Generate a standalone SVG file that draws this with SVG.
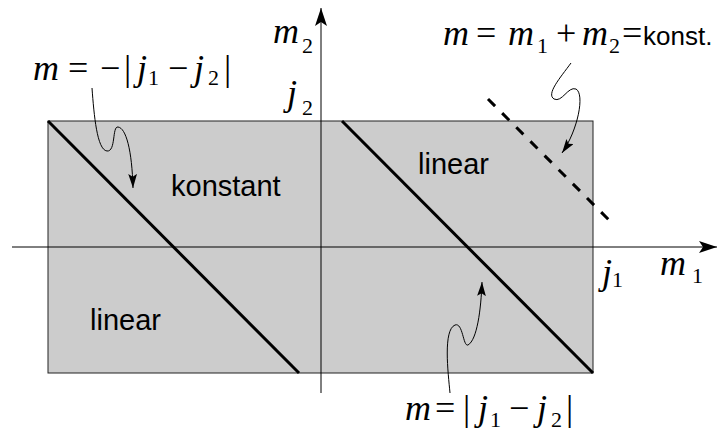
<svg xmlns="http://www.w3.org/2000/svg" width="720" height="431" viewBox="0 0 720 431">
<style>
.mi{font-family:"Liberation Serif",serif;font-style:italic;font-size:36px;fill:#000}
.mr{font-family:"Liberation Serif",serif;font-size:36px;fill:#000}
.sb{font-family:"Liberation Serif",serif;font-size:22px;fill:#000}
.bar{font-family:"Liberation Serif",serif;font-size:36px;fill:#000}
.sans{font-family:"Liberation Sans",Arial,sans-serif;font-size:29px;fill:#000}
.curl{fill:none;stroke:#000;stroke-width:1}
</style>
<defs>
<marker id="ah" viewBox="0 0 18 12" refX="18" refY="6" markerWidth="18" markerHeight="12" markerUnits="userSpaceOnUse" orient="auto">
<path d="M0,0 L18,6 L0,12 L4,6 Z" fill="#000"/>
</marker>
<marker id="ahs" viewBox="0 0 16 10" refX="16" refY="5" markerWidth="14" markerHeight="9" markerUnits="userSpaceOnUse" orient="auto">
<path d="M0,0 L16,5 L0,10 L3,5 Z" fill="#000"/>
</marker>
</defs>
<g id="region">
<rect x="48" y="121" width="545" height="252" fill="#cccccc" stroke="#222" stroke-width="1"/>
</g>
<g id="connectors">
<line x1="12" y1="247" x2="717" y2="247" stroke="#000" stroke-width="1" marker-end="url(#ah)"/>
<line x1="321" y1="393" x2="321" y2="8" stroke="#000" stroke-width="1" marker-end="url(#ah)"/>
<line x1="48" y1="121" x2="299" y2="373" stroke="#000" stroke-width="3"/>
<line x1="342" y1="121" x2="593" y2="373" stroke="#000" stroke-width="3"/>
<line x1="488" y1="99" x2="614" y2="225" stroke="#000" stroke-width="3" stroke-dasharray="10 10"/>
<path class="curl" d="M92,88 C94,115 97,150 107,151 C116,152 112,126 118,127 C126,128 132,150 133,188" marker-end="url(#ahs)"/>
<path class="curl" d="M571,63 C560,78 546,94 554,99 C562,103 568,86 576,89 C585,94 578,130 562,153" marker-end="url(#ahs)"/>
<path class="curl" d="M450,393 C448,372 443,330 455,325 C463,322 463,347 468,345 C477,340 481,310 482,282" marker-end="url(#ahs)"/>
</g>
<g id="label-m2">
<text class="mi" x="273" y="43">m</text><text class="sb" x="302" y="53">2</text>
</g>
<g id="label-j2">
<text class="mi" x="287" y="105">j</text><text class="sb" x="302" y="115">2</text>
</g>
<g id="label-j1">
<text class="mi" x="602" y="284">j</text><text class="sb" x="612" y="287">1</text>
</g>
<g id="label-m1">
<text class="mi" x="660" y="275">m</text><text class="sb" x="692" y="283">1</text>
</g>
<g id="formula-left">
<text class="mi" x="33" y="80">m</text>
<text class="mr" x="68" y="80">=</text>
<text class="mr" x="100" y="80">−</text>
<text class="bar" x="124" y="80">|</text>
<text class="mi" x="137" y="80">j</text>
<text class="sb" x="148" y="85">1</text>
<text class="mr" x="168" y="80">−</text>
<text class="mi" x="194" y="80">j</text>
<text class="sb" x="208" y="85">2</text>
<text class="bar" x="224" y="80">|</text>
</g>
<g id="formula-top">
<text class="mi" x="443" y="45">m</text>
<text class="mr" x="476" y="45">=</text>
<text class="mi" x="508" y="45">m</text>
<text class="sb" x="537" y="53">1</text>
<text class="mr" x="556" y="45">+</text>
<text class="mi" x="582" y="45">m</text>
<text class="sb" x="609" y="53">2</text>
<text class="mr" x="622" y="45">=</text>
<text class="sans" x="643" y="45" style="font-size:26px">konst.</text>
</g>
<g id="formula-bottom">
<text class="mi" x="405" y="420">m</text>
<text class="mr" x="435" y="420">=</text>
<text class="bar" x="463" y="420">|</text>
<text class="mi" x="478" y="420">j</text>
<text class="sb" x="490" y="427">1</text>
<text class="mr" x="509" y="420">−</text>
<text class="mi" x="537" y="420">j</text>
<text class="sb" x="551" y="427">2</text>
<text class="bar" x="566" y="420">|</text>
</g>
<g id="label-konstant"><text class="sans" x="171" y="196">konstant</text></g>
<g id="label-linear-top"><text class="sans" x="418" y="174">linear</text></g>
<g id="label-linear-bottom"><text class="sans" x="90" y="330">linear</text></g>
</svg>
